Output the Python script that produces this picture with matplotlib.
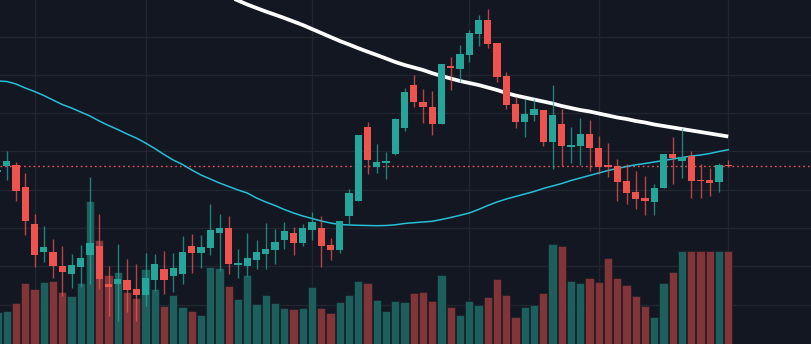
import matplotlib
matplotlib.use("Agg")
import matplotlib.pyplot as plt
import numpy as np

# ---- data (price units are arbitrary; no axis labels in the reference) ----
opens = [172.5, 178, 179, 157, 120, 92.3, 92, 78, 70.3, 77.3,
         89.3, 98, 60.3, 60.3, 64, 55, 49, 64, 75, 68,
         70, 98, 91, 96, 111, 116, 79.3, 78, 84, 90,
         94, 104, 111, 101, 114, 116, 99, 94, 128, 143,
         217, 177.3, 181, 190, 216, 259, 242, 237, 220, 278,
         275, 289, 310, 324, 301, 268, 240, 222, 229, 234,
         202, 220, 197, 198, 210, 196, 179, 178, 163, 152,
         146, 142, 156, 190, 183, 188, 164, 164, 162, 179]
highs = [176, 193, 181.7, 171, 130, 118, 105, 98, 90, 99,
         167, 130, 78, 100, 85, 80, 91, 90, 93, 91,
         108, 110, 109, 140, 130, 128, 95, 111, 104, 121,
         115, 122, 117, 120, 132, 128, 106, 123, 155, 209,
         222, 200, 192, 226, 256, 269, 255, 253, 280, 287,
         299, 314, 329, 335, 301, 272, 247, 245, 245, 234,
         259, 235, 217, 226, 224, 208, 201, 185, 180, 173,
         168, 160, 190, 207, 216, 193, 180, 176, 181, 184]
lows = [171, 164, 143, 109, 77.3, 82.3, 66.3, 48.3, 56.3, 57.3,
        60.3, 55.3, 28.3, 23.3, 32.3, 23.3, 38.3, 53.3, 50.3, 52.3,
        60.3, 71.3, 76.3, 89, 73.3, 70.3, 66.3, 68.3, 75.3, 75,
        80.3, 95, 89, 98, 104, 77, 84, 91, 120, 143,
        170, 171, 165, 189, 213, 237, 221, 209, 220, 254,
        262, 282, 298, 296, 262, 235, 216, 207, 223, 198,
        175, 178, 181, 179, 173, 170, 167, 143, 140, 135,
        129, 129, 156, 160, 166, 146, 146, 148, 152, 177]
closes = [174.5, 183, 153.3, 123, 89.3, 97, 78.3, 72.3, 79, 86,
          101, 65.3, 57.3, 65, 54, 49, 66, 80, 64, 76,
          92, 91, 97, 114, 116, 80, 81.3, 86, 92, 95,
          102, 113, 101, 116, 122, 98, 94, 123, 151, 209,
          184, 182, 183, 225, 252, 242, 237, 220, 280, 276,
          290, 311, 324, 300, 267, 239, 222, 230, 235, 202,
          229, 198, 199, 210, 196, 177, 177, 162, 151, 145,
          143, 156, 190, 186, 187, 163, 163, 161, 179, 177.7]
volumes = [32, 33, 41, 61, 55, 62, 63, 52, 48, 61,
           143, 104, 69, 72, 52, 46, 75, 55, 38, 49,
           37, 33, 29, 77, 76, 58, 45, 69, 40, 49,
           41, 36, 35, 36, 57, 36, 31, 42, 49, 63,
           61, 44, 33, 43, 42, 51, 52, 43, 69, 37,
           29, 43, 39, 47, 65, 49, 27, 37, 39, 51,
           100, 98, 63, 61, 66, 62, 86, 66, 59, 48,
           38, 27, 61, 72, 93, 93, 93, 93, 93, 93]
ma_fast = [263, 262.5, 260, 256, 252.5, 248.5, 244, 239.5, 236, 232,
           228, 223, 218.5, 214.5, 210, 206, 201, 195.5, 189.5, 184,
           179.5, 174, 169, 165, 161, 157.5, 154, 151, 146, 142,
           138.5, 134.5, 131, 128, 125.5, 123, 121, 119.5, 119, 118.7,
           118.5, 118.3, 118.5, 119.2, 120.5, 121.3, 122, 122.7, 124.5, 126.5,
           128.7, 131, 134.5, 138.5, 142, 145, 147.5, 150, 152.5, 155.5,
           158, 160.5, 163.5, 166, 168.5, 171, 173.5, 175.5, 177.5, 179.2,
           180.5, 182, 183.5, 185, 186.5, 188, 189, 190.5, 192.5, 194.3]
ma_slow_start = 25
ma_slow = [347.5, 343.5, 339.5, 336, 332.5, 329.3, 326, 322.5, 319, 315,
           311, 307, 303, 299.5, 295.8, 292.3, 289, 285.5, 282, 279,
           276.5, 274, 270.8, 268, 265.5, 263, 261, 259, 256.5, 254,
           251, 248.5, 246.5, 244.5, 242.5, 240.5, 238, 236, 234, 232.5,
           230.5, 228.5, 226.5, 225, 223, 221.5, 219.5, 218, 216.5, 215,
           213.5, 212, 210.5, 209, 207.5]
grid_prices = [307.5, 269.2, 230.9, 192.6, 154.3, 116.0, 77.7, 39.4]
grid_bars = [4, 16, 34, 51, 65, 79]

# ---- style ----
BG = "#131722"
UP = "#26a69a"
DN = "#ef5350"
UPV = "#1d5f5d"
DNV = "#813539"
GRID = "#222631"

fig = plt.figure(figsize=(8.12, 3.44), dpi=100, facecolor=BG)
ax = fig.add_axes([0, 0, 1, 1], facecolor=BG)
for s in ax.spines.values():
    s.set_visible(False)
ax.set_xticks([]); ax.set_yticks([])

n = len(closes)
idx = np.arange(n)
o = np.array(opens); c = np.array(closes)
h = np.array(highs); l = np.array(lows)
up = c >= o

for gp in grid_prices:
    ax.axhline(gp, color=GRID, lw=1.0, zorder=0)
for gb in grid_bars:
    ax.axvline(gb, color=GRID, lw=1.0, zorder=0)

# volume (own scale)
vax = ax.twinx()
vax.set_ylim(0, 344)
vax.set_axis_off()
vax.bar(idx, volumes, width=0.9, color=np.where(up, UPV, DNV),
        edgecolor="#141820", linewidth=0.4, zorder=1)

# price layer on top of volume
pax = ax.twinx()
pax.set_axis_off()

pax.plot(idx, ma_fast, color="#26bfd6", lw=1.1, zorder=3)
pax.plot(np.arange(ma_slow_start, ma_slow_start + len(ma_slow)), ma_slow,
         color="white", lw=2.7, zorder=3, solid_capstyle="butt",
         solid_joinstyle="round")

pax.axhline(closes[-1], color=DN, lw=1.0, ls=(0, (1.2, 2.2)), zorder=2)

pax.vlines(idx[up], l[up], h[up], color=UP, lw=1.0, alpha=0.75, zorder=4)
pax.vlines(idx[~up], l[~up], h[~up], color=DN, lw=1.0, alpha=0.75, zorder=4)
body_lo = np.minimum(o, c)
body_h = np.maximum(np.abs(c - o), 1.5)
pax.bar(idx, body_h, bottom=body_lo, width=0.78,
        color=np.where(up, UP, DN), linewidth=0, zorder=5)

xl = (0.27, 88.05)
for a in (ax, vax, pax):
    a.set_xlim(*xl)
ax.set_ylim(0, 344)
pax.set_ylim(0, 344)

fig.savefig("out.png", dpi=100, facecolor=BG)
